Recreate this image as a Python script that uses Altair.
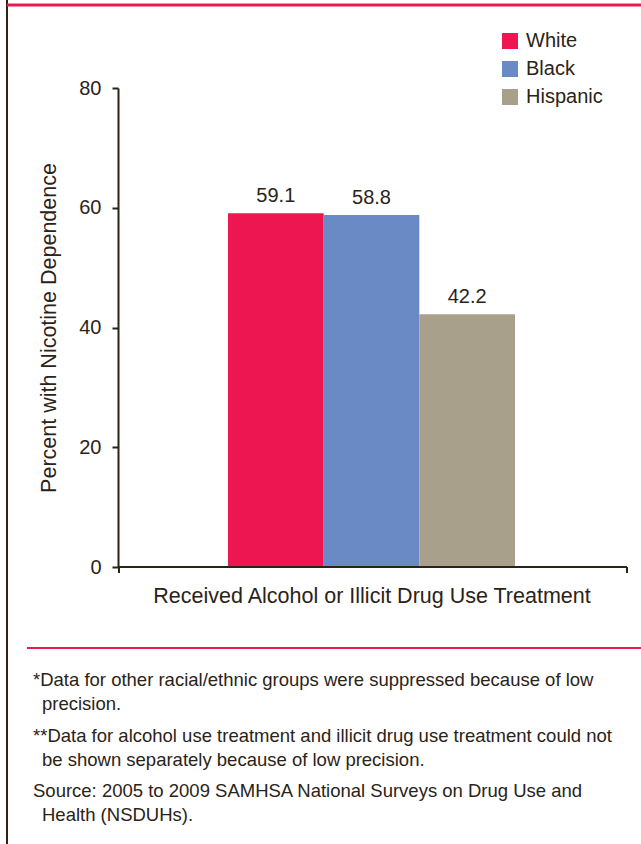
import altair as alt
import pandas as pd

races = ["White", "Black", "Hispanic"]
values = [59.1, 58.8, 42.2]
labels = ["59.1", "58.8", "42.2"]
colors = ["#EE1651", "#6A8AC5", "#A9A08C"]
y_ticks = [0, 20, 40, 60, 80]
x_title = "Received Alcohol or Illicit Drug Use Treatment"
y_title = "Percent with Nicotine Dependence"
footnotes = [
    ("*Data for other racial/ethnic groups were suppressed because of low", 33, 680),
    ("precision.", 42, 704),
    ("**Data for alcohol use treatment and illicit drug use treatment could not", 33, 736),
    ("be shown separately because of low precision.", 42, 760),
    ("Source: 2005 to 2009 SAMHSA National Surveys on Drug Use and", 33, 791),
    ("Health (NSDUHs).", 42, 815),
]

FONT = "Liberation Sans"
TXT = "#2a2318"
W, H = 509, 479
LEFT, TOP = 118, 88

df = pd.DataFrame({"race": races, "value": values, "label": labels})
one = pd.DataFrame({"a": [0]})

xscale = alt.Scale(domain=races, paddingInner=0, paddingOuter=0, range=[110, 397])
yscale = alt.Scale(domain=[0, 80])

bars = alt.Chart(df).mark_bar().encode(
    x=alt.X("race:N", scale=xscale, sort=races,
            axis=alt.Axis(labels=False, ticks=False, domain=False, title=x_title,
                          titleFont=FONT, titleFontSize=21.5, titleFontWeight="normal",
                          titleColor=TXT, titlePadding=18)),
    y=alt.Y("value:Q", scale=yscale,
            axis=alt.Axis(values=y_ticks, grid=False, title=y_title, titleFont=FONT,
                          titleFontSize=21.5, titleFontWeight="normal", titleColor=TXT,
                          titlePadding=18, labelFont=FONT, labelFontSize=20,
                          labelColor=TXT, labelPadding=11, tickSize=6, tickColor=TXT,
                          tickWidth=2, domainColor=TXT, domainWidth=2)),
    color=alt.Color("race:N", scale=alt.Scale(domain=races, range=colors),
                    legend=alt.Legend(title=None, orient="none", legendX=382, legendY=-57,
                                      symbolType="square", symbolSize=256,
                                      symbolStrokeWidth=0, symbolOpacity=1,
                                      labelFont=FONT, labelFontSize=20, labelColor=TXT,
                                      labelOffset=6, rowPadding=8)),
)

text = alt.Chart(df).mark_text(baseline="alphabetic", dy=-11, font=FONT, fontSize=20,
                               color=TXT).encode(
    x=alt.X("race:N", scale=xscale, sort=races),
    y=alt.Y("value:Q", scale=yscale),
    text="label:N",
)

def rule(x, x2, y, y2, color, w):
    return alt.Chart(one).mark_rule(color=color, strokeWidth=w).encode(
        x=alt.value(x), x2=alt.value(x2), y=alt.value(y), y2=alt.value(y2))

deco = [
    rule(-111, -111, -TOP, 844 - TOP, TXT, 2),
    rule(-111, 641 - LEFT, 5 - TOP, 5 - TOP, "#EE1651", 3),
    rule(27 - LEFT, 641 - LEFT, 648 - TOP, 648 - TOP, "#EE1651", 2),
    rule(0, W, H, H, TXT, 2),
    rule(1, 1, H, H + 6, TXT, 2),
    rule(W, W, H, H + 6, TXT, 2),
]

notes = [
    alt.Chart(one).mark_text(align="left", baseline="middle", font=FONT, fontSize=18.5,
                             color=TXT).encode(
        x=alt.value(x - LEFT), y=alt.value(y - TOP), text=alt.value(t))
    for t, x, y in footnotes
]

chart = alt.layer(bars, text, *deco, *notes).properties(
    width=W, height=H,
    padding={"left": LEFT, "top": TOP, "right": 641 - LEFT - W, "bottom": 844 - TOP - H},
    autosize=alt.AutoSizeParams(type="none"),
    background="white",
).configure_view(stroke=None)

chart.save("out.html", embed_options={"renderer": "svg", "actions": False})
